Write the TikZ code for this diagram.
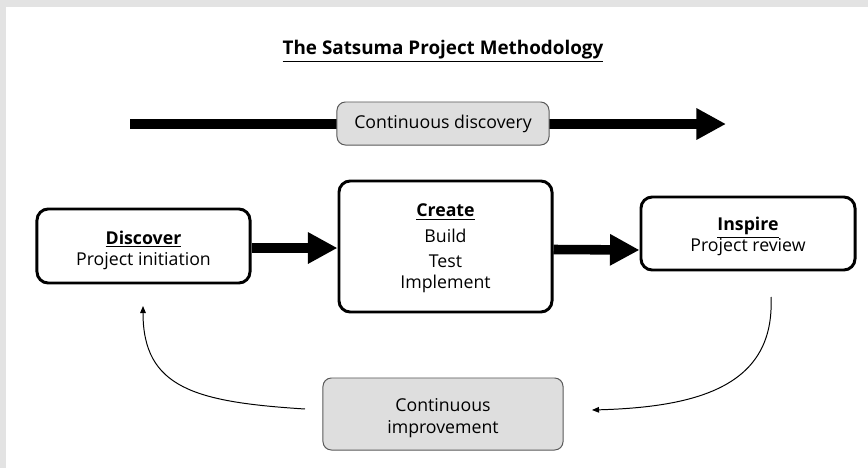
\documentclass[tikz,border=0pt]{standalone}
\usepackage{fontspec}
\setmainfont{Open Sans}
\usetikzlibrary{arrows.meta, positioning}

\begin{document}
\begin{tikzpicture}[x=0.025cm, y=-0.025cm,
		stagebox/.style={draw, line width=2.1pt, rounded corners=8pt, fill=white, align=center, font=\fontsize{12.6}{15}\selectfont},
		greybox/.style={draw=black!65, line width=0.7pt, rounded corners=6pt, fill=black!13, align=center, font=\fontsize{12.6}{15.5}\selectfont},
		bigarrow/.style={line width=6.8pt, -{Triangle[length=21pt, width=21pt]}},
		loop/.style={line width=0.7pt, -{Triangle[length=5pt, width=4pt]}}]
			% Draw Page Frame
			\fill[black!11] (0,0) rectangle (868,468);
			\fill[white] (6,7) rectangle (868,468);
			
			% Draw Title
			\node[font=\fontsize{13.4}{15}\selectfont\bfseries] (title) at (443,51) {\underline{The Satsuma Project Methodology}};
			
			% Draw Continuous Discovery
			\coordinate (cdstart) at (130,124);
			\coordinate (cdend) at (726,124);
			\draw[bigarrow] (cdstart) -- (cdend);
			\node[greybox, minimum width=5.3cm, minimum height=1.075cm] (discovery) at (443,123.5) {Continuous discovery};
			
			% Draw Stages
			\node[stagebox, minimum width=5.325cm, minimum height=1.85cm] (discover) at (143.5,246) {\rule{0pt}{16pt}\textbf{\underline{Discover}}\\Project initiation};
			\node[stagebox, minimum width=5.325cm, minimum height=3.275cm] (create) at (445.5,246.5) {\rule{0pt}{12pt}\textbf{\underline{Create}}\\[3pt]Build\\[3pt]Test\\Implement};
			\node[stagebox, minimum width=5.35cm, minimum height=1.825cm] (inspire) at (748,233.5) {\rule{0pt}{14pt}\textbf{\underline{Inspire}}\\Project review};
			
			% Draw Stage Arrows
			\draw[bigarrow] (discover.east) ++(0,2) -- (create.west |- 0,248);
			\draw[bigarrow] (create.east) ++(0,3) -- (inspire.west |- 0,250);
			
			% Draw Continuous Improvement
			\node[greybox, minimum width=6cm, minimum height=1.8cm] (improvement) at (443,414) {\rule{0pt}{15pt}Continuous\\improvement};
			\coordinate (rtop) at (771,297);
			\coordinate (rend) at (592,410);
			\coordinate (lstart) at (305,409);
			\coordinate (ltop) at (143,306);
			\draw[loop] (rtop) .. controls (775,385) and (700,407) .. (rend);
			\draw[loop] (lstart) .. controls (195,402) and (143,388) .. (ltop);
		\end{tikzpicture}
\end{document}
